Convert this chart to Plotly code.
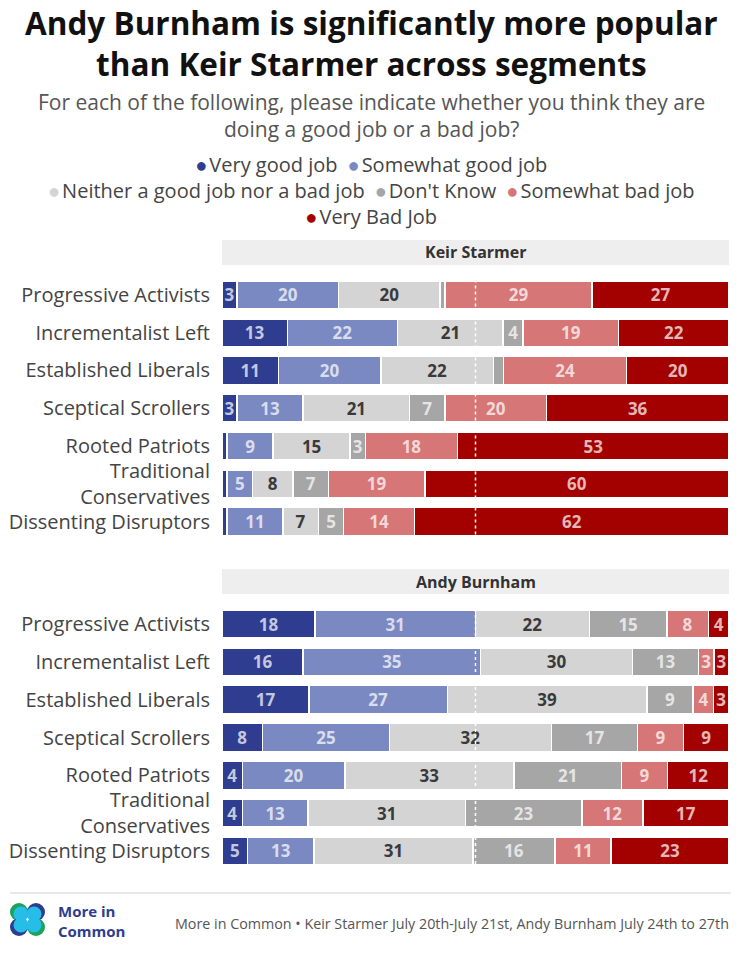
import plotly.graph_objects as go

W, H = 742, 954

segments = ["Progressive Activists", "Incrementalist Left", "Established Liberals",
            "Sceptical Scrollers", "Rooted Patriots", "Traditional<br>Conservatives",
            "Dissenting Disruptors"]
responses = ["Very good job", "Somewhat good job", "Neither a good job nor a bad job",
             "Don't Know", "Somewhat bad job", "Very Bad Job"]
colors = ["#2e3d8f", "#7b89c2", "#d4d4d4", "#a6a6a6", "#d67676", "#a30000"]

# Keir Starmer (July 20th-21st)
ks_very_good = [3, 13, 11, 3, 1, 1, 1]
ks_somewhat_good = [20, 22, 20, 13, 9, 5, 11]
ks_neither = [20, 21, 22, 21, 15, 8, 7]
ks_dont_know = [1, 4, 2, 7, 3, 7, 5]
ks_somewhat_bad = [29, 19, 24, 20, 18, 19, 14]
ks_very_bad = [27, 22, 20, 36, 53, 60, 62]

# Andy Burnham (July 24th-27th)
ab_very_good = [18, 16, 17, 8, 4, 4, 5]
ab_somewhat_good = [31, 35, 27, 25, 20, 13, 13]
ab_neither = [22, 30, 39, 32, 33, 31, 31]
ab_dont_know = [15, 13, 9, 17, 21, 23, 16]
ab_somewhat_bad = [8, 3, 4, 9, 9, 12, 11]
ab_very_bad = [4, 3, 3, 9, 12, 17, 23]

starmer = [ks_very_good, ks_somewhat_good, ks_neither, ks_dont_know, ks_somewhat_bad, ks_very_bad]
burnham = [ab_very_good, ab_somewhat_good, ab_neither, ab_dont_know, ab_somewhat_bad, ab_very_bad]

FONT = "Open Sans"
LIGHT_TXT = "rgba(255,255,255,0.72)"
DARK_TXT = "#3a3a3a"


def py(px):
    # pixel row -> paper fraction
    return 1 - px / H


def label(text, x, y, size, color="#444", bold=False, xanchor="center", align="center"):
    fig.add_annotation(text=text, x=x, y=y, xref="paper", yref="paper",
                       xanchor=xanchor, yanchor="middle", showarrow=False, align=align,
                       font=dict(family=FONT, size=size, color=color,
                                 weight="bold" if bold else "normal"))


fig = go.Figure()

for data, xa, ya in [(starmer, "x", "y"), (burnham, "x2", "y2")]:
    for i, vals in enumerate(data):
        fig.add_trace(go.Bar(
            y=segments, x=vals, orientation="h", name=responses[i],
            xaxis=xa, yaxis=ya, showlegend=False,
            marker=dict(color=colors[i], line=dict(color="white", width=1.5)),
            text=[str(v) if v >= 3 else "" for v in vals],
            texttemplate="%{text}", textposition="inside", insidetextanchor="middle",
            textangle=0,
            textfont=dict(family=FONT, size=17, weight="bold",
                          color=DARK_TXT if i == 2 else LIGHT_TXT),
            hovertemplate="%{y}: %{x}%<extra>" + responses[i] + "</extra>",
        ))

xdom = [222 / W, 729 / W]
axis_x = dict(domain=xdom, range=[0, 100], showgrid=False, zeroline=False,
              showticklabels=False, fixedrange=True)
axis_y = dict(autorange="reversed", showgrid=False, zeroline=False,
              ticks="outside", ticklen=7, tickcolor="rgba(0,0,0,0)",
              tickfont=dict(family=FONT, size=20, color="#444"))

fig.update_layout(
    width=W, height=H,
    margin=dict(l=0, r=0, t=0, b=0),
    paper_bgcolor="white", plot_bgcolor="white",
    barmode="stack", barnorm="percent", bargap=0.26,
    uniformtext=dict(minsize=17, mode="show"),
    font=dict(family=FONT, color="#444"),
    showlegend=False,
    xaxis=dict(axis_x, anchor="y"),
    xaxis2=dict(axis_x, anchor="y2"),
    yaxis=dict(axis_y, domain=[py(540.4), py(276.1)], anchor="x"),
    yaxis2=dict(axis_y, domain=[py(869.9), py(605.1)], anchor="x2"),
)

# title and subtitle
label("Andy Burnham is significantly more popular<br>than Keir Starmer across segments",
      0.5, py(43), 31.5, "#111", bold=True)
label("For each of the following, please indicate whether you think they are<br>"
      "doing a good job or a bad job?", 0.5, py(115), 21, "#555")

# legend, three centred rows of coloured dots in one block
legend_rows = [[0, 1], [2, 3, 4], [5]]
rows = []
for idx in legend_rows:
    parts = ['<span style="color:%s">\u25cf</span>\u200a%s' % (colors[i], responses[i]) for i in idx]
    rows.append("\u2002".join(parts))
label("<br>".join(rows), 0.5, py(190), 20, "#444")

# panel header bands
for title, top, bot in [("Keir Starmer", 240, 265), ("Andy Burnham", 569, 594)]:
    fig.add_shape(type="rect", xref="paper", yref="paper", x0=xdom[0], x1=xdom[1],
                  y0=py(bot), y1=py(top), fillcolor="#eeeeee", line_width=0, layer="below")
    label(title, (xdom[0] + xdom[1]) / 2, py((top + bot) / 2), 16, "#333", bold=True)

# dashed midpoint lines
for xr, yr in [("x", "y domain"), ("x2", "y2 domain")]:
    fig.add_shape(type="line", xref=xr, yref=yr, x0=50, x1=50, y0=0, y1=1,
                  line=dict(color="white", width=1.5, dash="3px,3px"), layer="above")

# footer rule
fig.add_shape(type="line", xref="paper", yref="paper", x0=10 / W, x1=731 / W,
              y0=py(893), y1=py(893), line=dict(color="#e2e2e2", width=1.5))

# logo: four lobes
lobes = [(19, 912, "#1aa35a"), (36, 912, "#2e3d8f"), (19, 927, "#2e3d8f"), (36, 927, "#1aa35a")]
for cx, cy, c in lobes:
    fig.add_shape(type="circle", xref="paper", yref="paper",
                  x0=(cx - 9) / W, x1=(cx + 9) / W, y0=py(cy + 9), y1=py(cy - 9),
                  fillcolor=c, line_width=0)
for cx, cy, c in lobes:
    dx = 2 if cx < 27 else -2
    dy = 2 if cy < 920 else -2
    fig.add_shape(type="circle", xref="paper", yref="paper",
                  x0=(cx + dx - 7.5) / W, x1=(cx + dx + 7.5) / W,
                  y0=py(cy + dy + 7.5), y1=py(cy + dy - 7.5),
                  fillcolor="#27bde9", line_width=0)

label("More in<br>Common", 56 / W, py(921), 15, "#2e3d8f", bold=True, xanchor="left", align="left")
label("More in Common \u2022 Keir Starmer July 20th-July 21st, Andy Burnham July 24th to 27th",
      731 / W, py(923), 14.3, "#555", xanchor="right")

fig.write_html("out.html", config={"displayModeBar": False},
               post_script="document.body.style.margin='0px';")
